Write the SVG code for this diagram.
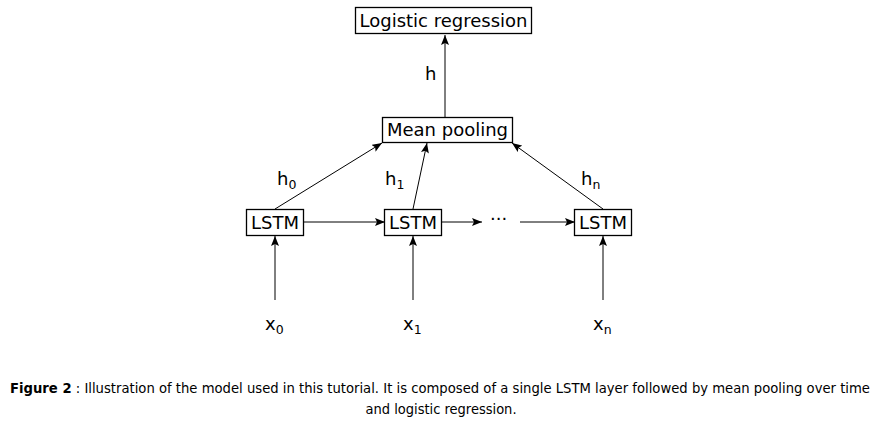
<svg xmlns="http://www.w3.org/2000/svg" width="874" height="424" viewBox="0 0 874 424">
<style>
.box{fill:#fff;stroke:#000;stroke-width:1.3}
.t{font-family:"DejaVu Sans",sans-serif;font-size:18px;fill:#000}
.s{font-family:"DejaVu Sans",sans-serif;font-size:12.5px;fill:#000}
.e{stroke:#000;stroke-width:1;fill:none;marker-end:url(#ah)}
.cap{font-family:"DejaVu Sans Condensed","DejaVu Sans",sans-serif;font-size:14.5px;fill:#000}
</style>
<defs>
<marker id="ah" viewBox="0 0 10 8" refX="10" refY="4" markerWidth="10" markerHeight="8" markerUnits="userSpaceOnUse" orient="auto">
<path d="M0,0 L10,4 L0,8 L2,4 Z" fill="#000"/>
</marker>
</defs>
<rect width="874" height="424" fill="#fff"/>
<g id="connectors">
<line class="e" x1="445" y1="117" x2="445" y2="35"/>
<line class="e" x1="275" y1="209" x2="382" y2="143"/>
<line class="e" x1="413" y1="209" x2="427" y2="143"/>
<line class="e" x1="603" y1="209" x2="512" y2="143"/>
<line class="e" x1="303" y1="222" x2="385" y2="222"/>
<line class="e" x1="441" y1="222" x2="482" y2="222"/>
<line class="e" x1="520" y1="222" x2="575" y2="222"/>
<line class="e" x1="275" y1="300" x2="275" y2="236"/>
<line class="e" x1="413" y1="300" x2="413" y2="236"/>
<line class="e" x1="603" y1="300" x2="603" y2="236"/>
<text class="t" x="425" y="80">h</text>
<text class="t" x="277" y="185">h<tspan class="s" dy="4">0</tspan></text>
<text class="t" x="385" y="185">h<tspan class="s" dy="4">1</tspan></text>
<text class="t" x="581" y="185">h<tspan class="s" dy="4">n</tspan></text>
<text class="t" x="490" y="225">···</text>
</g>
<g id="logistic">
<rect class="box" x="355.5" y="7.5" width="176" height="26"/>
<text class="t" x="443.5" y="26.5" text-anchor="middle">Logistic regression</text>
</g>
<g id="meanpool">
<rect class="box" x="382.5" y="117.5" width="130" height="25"/>
<text class="t" x="447.5" y="136" text-anchor="middle">Mean pooling</text>
</g>
<g id="lstm0">
<rect class="box" x="246.5" y="209.5" width="57" height="26"/>
<text class="t" x="275" y="229" text-anchor="middle">LSTM</text>
</g>
<g id="lstm1">
<rect class="box" x="384.5" y="209.5" width="57" height="26"/>
<text class="t" x="413" y="229" text-anchor="middle">LSTM</text>
</g>
<g id="lstmn">
<rect class="box" x="574.5" y="209.5" width="57" height="26"/>
<text class="t" x="603" y="229" text-anchor="middle">LSTM</text>
</g>
<g id="x0"><text class="t" x="265" y="330">x<tspan class="s" dy="4">0</tspan></text></g>
<g id="x1"><text class="t" x="403" y="330">x<tspan class="s" dy="4">1</tspan></text></g>
<g id="xn"><text class="t" x="593" y="330">x<tspan class="s" dy="4">n</tspan></text></g>
<g id="caption">
<text class="cap" x="10" y="393" textLength="860" lengthAdjust="spacingAndGlyphs"><tspan font-weight="bold">Figure 2</tspan> : Illustration of the model used in this tutorial. It is composed of a single LSTM layer followed by mean pooling over time</text>
<text class="cap" x="441" y="414" text-anchor="middle">and logistic regression.</text>
</g>
</svg>
